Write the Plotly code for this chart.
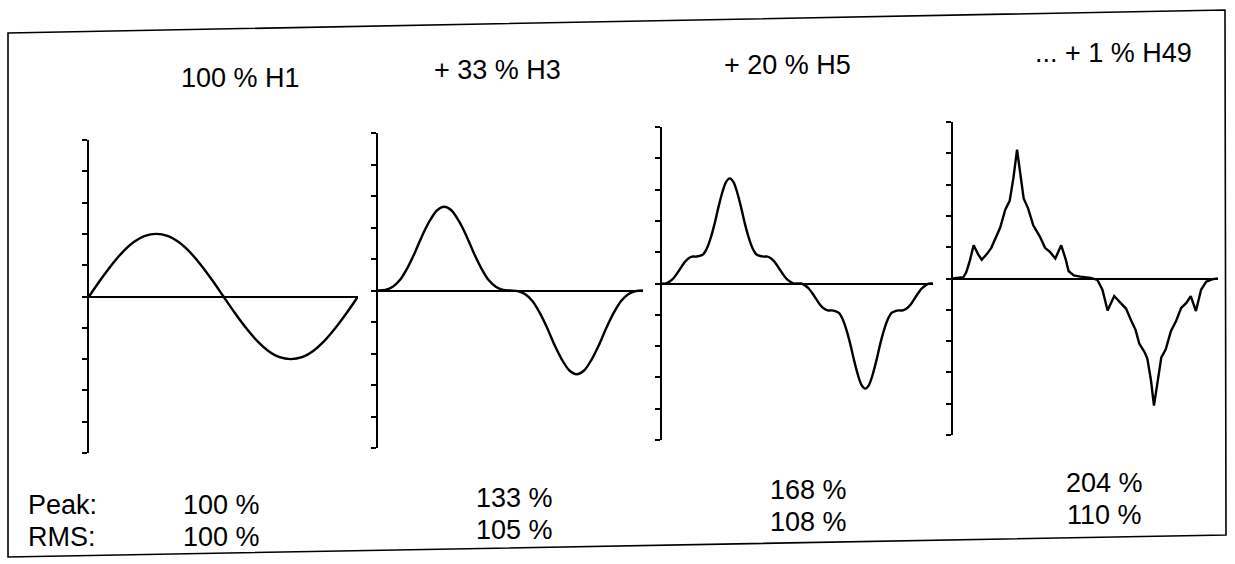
import plotly.graph_objects as go

W, H = 1235, 564

# ---- data ----
titles = ["100 % H1", "+ 33 % H3", "+ 20 % H5", "... + 1 % H49"]
peak_labels = ["100 %", "133 %", "168 %", "204 %"]
rms_labels = ["100 %", "105 %", "108 %", "110 %"]
row_names = ["Peak:", "RMS:"]

phase1 = [0, 15, 30, 45, 60, 75, 90, 105, 120, 135, 150, 165, 180,
          195, 210, 225, 240, 255, 270, 285, 300, 315, 330, 345, 360]
wave1 = [0, 26, 50, 71, 87, 97, 100, 97, 87, 71, 50, 26, 0,
         -26, -50, -71, -87, -97, -100, -97, -87, -71, -50, -26, 0]

phase2 = [0, 10, 20, 30, 40, 50, 60, 70, 80, 90, 100, 110, 120, 130, 140, 150, 160, 170, 180,
          190, 200, 210, 220, 230, 240, 250, 260, 270, 280, 290, 300, 310, 320, 330, 340, 350, 360]
wave2 = [0, 1, 6, 17, 36, 60, 87, 110, 127, 133, 127, 110, 87, 60, 36, 17, 6, 1, 0,
         -1, -6, -17, -36, -60, -87, -110, -127, -133, -127, -110, -87, -60, -36, -17, -6, -1, 0]

phase3 = [0, 5, 10, 15, 20, 25, 30, 35, 40, 45, 50, 55, 60, 65, 70, 75, 80, 85, 90,
          95, 100, 105, 110, 115, 120, 125, 130, 135, 140, 145, 150, 155, 160, 165, 170, 175, 180,
          185, 190, 195, 200, 205, 210, 215, 220, 225, 230, 235, 240, 245, 250, 255, 260, 265, 270,
          275, 280, 285, 290, 295, 300, 305, 310, 315, 320, 325, 330, 335, 340, 345, 350, 355, 360]
wave3 = [0, 0, 3, 8, 16, 25, 34, 40, 43, 43, 44, 47, 57, 74, 96, 122, 145, 162, 168,
         162, 145, 122, 96, 74, 57, 47, 44, 43, 43, 40, 34, 25, 16, 8, 3, 0, 0,
         0, -3, -8, -16, -25, -34, -40, -43, -43, -44, -47, -57, -74, -96, -122, -145, -162, -168,
         -162, -145, -122, -96, -74, -57, -47, -44, -43, -43, -40, -34, -25, -16, -8, -3, 0, 0]

phase4 = [0, 14, 18, 23, 28, 34, 39, 46, 52, 57, 64, 71, 77, 82, 87, 91, 96, 102, 109, 118,
          125, 132, 139, 147, 153, 157, 164, 173, 187, 196, 203, 210, 219, 226, 235, 242, 248, 253, 260, 264,
          269, 273, 278, 283, 289, 296, 303, 310, 317, 323, 330, 337, 344, 353, 360]
wave4 = [0, 2, 10, 29, 53, 39, 30, 39, 49, 63, 81, 110, 124, 160, 206, 171, 128, 112, 85, 67,
         49, 42, 32, 53, 31, 12, 5, 3, 1, -2, -18, -51, -28, -37, -48, -67, -82, -104, -117, -128,
         -163, -203, -168, -126, -113, -84, -68, -47, -39, -28, -52, -18, -5, -1, 0]

phases = [phase1, phase2, phase3, phase4]
waves = [wave1, wave2, wave3, wave4]
line_shapes = ["spline", "spline", "spline", "linear"]

# ---- layout geometry (pixels) ----
panel_x = [(89, 358), (378, 643), (662, 933), (953, 1218)]
panel_y = [(140, 453), (133, 448), (127, 440), (122, 435)]
title_pos = [(240, 78), (497, 70), (787, 65), (1113, 53)]
peak_pos = [(222, 505), (514, 498), (808, 490), (1104, 483)]
rms_pos = [(222, 537), (514, 530), (808, 522), (1104, 515)]
row_pos = [(26, 505), (26, 537)]

FONT = "Liberation Sans, Arial, Helvetica, sans-serif"
FS = 27


def px(x):
    return x / W


def py(y):
    return 1 - y / H


fig = go.Figure()
layout = dict(
    width=W, height=H, margin=dict(l=0, r=0, t=0, b=0),
    paper_bgcolor="white", plot_bgcolor="rgba(0,0,0,0)",
    showlegend=False, font=dict(family=FONT, color="black"),
)

for i in range(4):
    n = "" if i == 0 else str(i + 1)
    fig.add_trace(go.Scatter(
        x=phases[i], y=waves[i], mode="lines",
        line=dict(color="black", width=2.4, shape=line_shapes[i], smoothing=0.8),
        xaxis="x" + n, yaxis="y" + n, hoverinfo="skip",
    ))
    x0, x1 = panel_x[i]
    yt, yb = panel_y[i]
    layout["xaxis" + n] = dict(
        domain=[px(x0), px(x1)], range=[0, 360], anchor="y" + n,
        showgrid=False, zeroline=False, showline=False,
        showticklabels=False, ticks="", fixedrange=True,
    )
    layout["yaxis" + n] = dict(
        domain=[py(yb), py(yt)], range=[-250, 250], anchor="x" + n,
        tickmode="linear", tick0=0, dtick=50,
        ticks="outside", ticklen=5, tickwidth=1.6, tickcolor="black",
        showticklabels=False, showgrid=False,
        showline=True, linecolor="black", linewidth=2,
        zeroline=True, zerolinecolor="black", zerolinewidth=2,
        fixedrange=True,
    )

fig.update_layout(**layout)

annotations = []
for i in range(4):
    tx, ty = title_pos[i]
    annotations.append(dict(x=px(tx), y=py(ty), xref="paper", yref="paper",
                            text=titles[i], showarrow=False, xanchor="center",
                            yanchor="middle", font=dict(size=FS)))
    for labels, pos in ((peak_labels, peak_pos), (rms_labels, rms_pos)):
        lx, ly = pos[i]
        annotations.append(dict(x=px(lx), y=py(ly), xref="paper", yref="paper",
                                text=labels[i], showarrow=False, xanchor="center",
                                yanchor="middle", font=dict(size=FS)))
for name, (lx, ly) in zip(row_names, row_pos):
    annotations.append(dict(x=px(lx), y=py(ly), xref="paper", yref="paper",
                            text=name, showarrow=False, xanchor="left",
                            yanchor="middle", font=dict(size=FS)))
fig.update_layout(annotations=annotations)

# outer frame (slightly skewed as in the scanned original)
corners = [(8, 33), (1225, 10), (1226, 535), (8, 557)]
path = "M " + " L ".join(f"{px(x):.5f},{py(y):.5f}" for x, y in corners) + " Z"
fig.add_shape(type="path", path=path, xref="paper", yref="paper",
              line=dict(color="black", width=1.6), fillcolor="rgba(0,0,0,0)")

fig.write_html("out.html")
